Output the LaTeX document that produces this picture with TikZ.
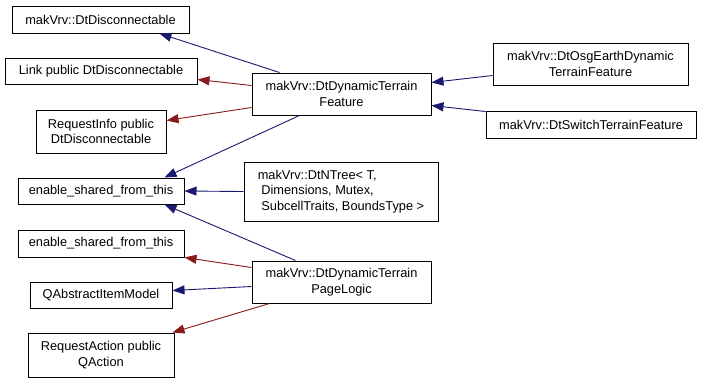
\documentclass[tikz,border=0pt]{standalone}
\usepackage{fontspec}
\setmainfont{Liberation Sans}
\usetikzlibrary{arrows.meta,calc}
\definecolor{dxblue}{HTML}{191970}
\definecolor{dxred}{HTML}{8B1A1A}
\tikzset{
  cls/.style={draw=black, line width=1pt, fill=white, inner sep=0pt, align=center,
    font=\fontsize{12.8}{15.5}\selectfont},
  pubedge/.style={draw=dxblue, line width=0.9pt, -{Triangle[length=12pt,width=9pt,fill=dxblue]}},
  prvedge/.style={draw=dxred, line width=0.9pt, -{Triangle[length=12pt,width=9pt,fill=dxred]}},
}
\begin{document}
\begin{tikzpicture}[x=1pt,y=-1pt]
\useasboundingbox[fill=white] (0,0) rectangle (702,383);
\node[cls, minimum width=177, minimum height=27] (dis) at (100.5,19.5) {makVrv::DtDisconnectable};
\node[cls, minimum width=192, minimum height=26] (link) at (101,71) {Link public DtDisconnectable};
\node[cls, minimum width=130, minimum height=43] (rinfo) at (101,131.5) {RequestInfo public\\DtDisconnectable};
\node[cls, minimum width=166, minimum height=26] (esft1) at (101,191) {enable\_shared\_from\_this};
\node[cls, minimum width=166, minimum height=27] (esft2) at (101,243.5) {enable\_shared\_from\_this};
\node[cls, minimum width=142, minimum height=26] (qaim) at (101,295) {QAbstractItemModel};
\node[cls, minimum width=146, minimum height=44] (ract) at (101,355) {RequestAction public\\QAction};
\node[cls, minimum width=179, minimum height=42] (feat) at (341.5,94) {makVrv::DtDynamicTerrain\\Feature};
\node[cls, minimum width=195, minimum height=42] (osg) at (590.5,64) {makVrv::DtOsgEarthDynamic\\TerrainFeature};
\node[cls, minimum width=210, minimum height=27] (sw) at (591,124.5) {makVrv::DtSwitchTerrainFeature};
\node[cls, minimum width=194, minimum height=59, align=left] (ntree) at (341,191.5) {makVrv::DtNTree< T,\\\ Dimensions, Mutex,\\\ SubcellTraits, BoundsType >};
\node[cls, minimum width=179, minimum height=42] (page) at (341.5,282) {makVrv::DtDynamicTerrain\\PageLogic};

\draw[pubedge] ($(feat.north west)+(28,0)$) -- ($(dis.south west)+(148,0)$);
\draw[prvedge] ($(feat.north west)+(0,13)$) -- ($(link.north east)+(0,22)$);
\draw[prvedge] ($(feat.north west)+(0,35)$) -- ($(rinfo.north east)+(0,11)$);
\draw[pubedge] ($(feat.south west)+(48,0)$) -- ($(esft1.north west)+(147,0)$);
\draw[pubedge] (ntree.west) -- (esft1.east);
\draw[pubedge] ($(page.north west)+(44,0)$) -- ($(esft1.south west)+(147,0)$);
\draw[prvedge] ($(page.north west)+(0,7)$) -- (esft2.south east);
\draw[pubedge] ($(page.north west)+(0,26)$) -- ($(qaim.north east)+(0,9)$);
\draw[prvedge] ($(page.south west)+(18,0)$) -- ($(ract.north east)+(-2,0)$);
\draw[pubedge] ($(osg.north west)+(0,33)$) -- ($(feat.north east)+(0,10)$);
\draw[pubedge] ($(sw.north west)+(0,1)$) -- ($(feat.north east)+(0,33)$);
\end{tikzpicture}
\end{document}
